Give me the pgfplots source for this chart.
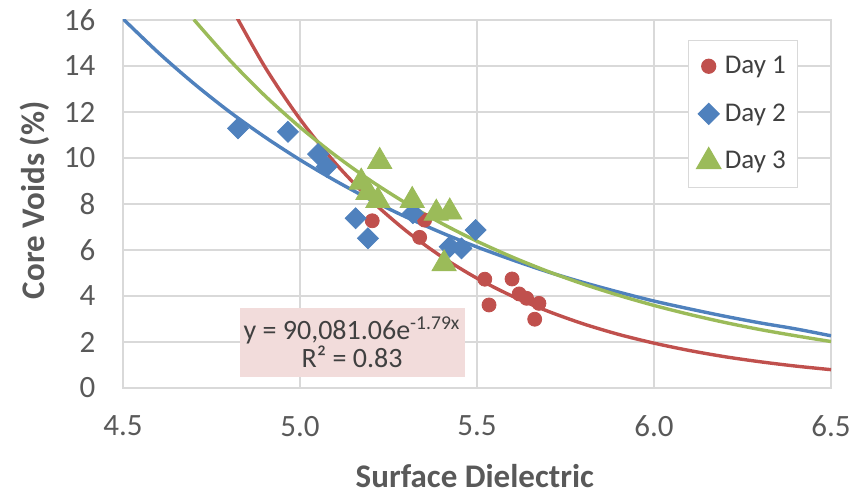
\documentclass[border=0pt]{standalone}
\usepackage{fontspec}
\setmainfont{Carlito}
\usepackage{pgfplots}
\pgfplotsset{compat=1.18}
\usetikzlibrary{calc}
\definecolor{dayred}{HTML}{C0504D}
\definecolor{dayblue}{HTML}{4F81BD}
\definecolor{daygreen}{HTML}{9BBB59}
\definecolor{gridgray}{HTML}{D9D9D9}
\definecolor{labelgray}{HTML}{595959}
\definecolor{legtext}{HTML}{404040}
\definecolor{eqpink}{HTML}{F2DCDB}
\pgfplotsset{
  legmark/.style={legend image code/.code={%
    \draw[mark repeat=2,mark phase=2,##1,only marks] plot coordinates {(0pt,0pt)(4pt,0pt)(8pt,0pt)};}},
  trend/.style={no marks, smooth, line width=1.7pt, forget plot},
}
\begin{document}
\begin{tikzpicture}
\begin{axis}[
  scale only axis, width=354pt, height=184pt,
  xmin=4.5, xmax=6.5, ymin=0, ymax=16,
  xtick={4.5,5,5.5,6,6.5}, ytick={0,2,...,16},
  major tick length=0pt,
  grid=major, grid style={gridgray, line width=0.6pt},
  axis line style={gridgray, line width=0.6pt},
  /pgf/number format/assume math mode=true,
  tick label style={font=\fontsize{15.5}{18}\selectfont, text=labelgray},
  xticklabel style={yshift=-10.5pt, /pgf/number format/fixed,
    /pgf/number format/fixed zerofill, /pgf/number format/precision=1},
  yticklabel style={xshift=-10.3pt},
  xlabel={Surface Dielectric}, ylabel={Core Voids (\%)},
  label style={font=\bfseries\fontsize{16.5}{19}\selectfont, text=labelgray},
  xlabel style={at={(axis description cs:0.497,-0.239)}, anchor=center},
  ylabel style={at={(axis description cs:-0.124,0.51)}, anchor=center},
  legend style={at={(0.798,0.946)}, anchor=north west, draw=gridgray, fill=white,
    font=\fontsize{13.5}{16}\selectfont, text=legtext, inner xsep=4pt, inner ysep=5.8pt,
    row sep=9.6pt, nodes={inner sep=2pt}, line width=0.6pt},
  legend cell align=left,
]
% Day 1
\addplot[only marks, mark=*, mark size=3.5pt, color=dayred, legmark] coordinates {
  (5.204,7.27) (5.352,7.30) (5.338,6.55) (5.522,4.73) (5.534,3.61)
  (5.599,4.74) (5.619,4.09) (5.640,3.90) (5.675,3.68) (5.663,2.99)};
% Day 2
\addplot[only marks, mark=square*, mark size=3.7pt, mark options={rotate=45}, color=dayblue, legmark] coordinates {
  (4.825,11.29) (4.966,11.14) (5.051,10.17) (5.075,9.62) (5.157,7.38)
  (5.192,6.51) (5.319,7.60) (5.423,6.14) (5.456,6.07) (5.496,6.87)};
% Day 3
\addplot[only marks, mark=triangle*, mark size=7pt, color=daygreen, legmark] coordinates {
  (5.225,9.85) (5.173,8.95) (5.192,8.50) (5.220,8.15) (5.317,8.15)
  (5.385,7.60) (5.423,7.65) (5.407,5.40)};
% trend lines
\addplot[trend, color=dayred] coordinates {
  (4.8,16.72) (4.9,13.98) (5.0,11.69) (5.1,9.77) (5.2,8.17) (5.3,6.83)
  (5.4,5.71) (5.5,4.77) (5.6,3.99) (5.7,3.34) (5.8,2.79) (5.9,2.33)
  (6.0,1.95) (6.1,1.63) (6.2,1.36) (6.3,1.14) (6.4,0.953) (6.5,0.797)};
\addplot[trend, color=dayblue] coordinates {
  (4.5,16.05) (4.6,14.58) (4.7,13.24) (4.8,12.02) (4.9,10.92) (5.0,9.92)
  (5.1,9.01) (5.2,8.18) (5.3,7.43) (5.4,6.75) (5.5,6.13) (5.6,5.57)
  (5.7,5.05) (5.8,4.59) (5.9,4.17) (6.0,3.78) (6.1,3.44) (6.2,3.12)
  (6.3,2.83) (6.4,2.57) (6.5,2.27)};
\addplot[trend, color=daygreen] coordinates {
  (4.7,16.02) (4.8,14.28) (4.9,12.72) (5.0,11.34) (5.1,10.11) (5.2,9.01)
  (5.3,8.03) (5.4,7.16) (5.5,6.38) (5.6,5.69) (5.7,5.07) (5.8,4.52)
  (5.9,4.03) (6.0,3.59) (6.1,3.20) (6.2,2.85) (6.3,2.54) (6.4,2.27) (6.5,2.02)};
\legend{Day 1, Day 2, Day 3}
\node[fill=eqpink, minimum width=112.5pt, minimum height=34.5pt, align=center,
  font=\fontsize{14}{14}\selectfont, text=legtext, inner sep=0pt]
  at (axis cs:5.147,1.98) {y = 90,081.06e\textsuperscript{-1.79x}\\R² = 0.83};
\end{axis}
\pgfresetboundingbox
\path[use as bounding box] ($(current axis.south west)+(-61.5pt,-53.5pt)$)
  rectangle ($(current axis.north east)+(17pt,10pt)$);
\end{tikzpicture}
\end{document}
